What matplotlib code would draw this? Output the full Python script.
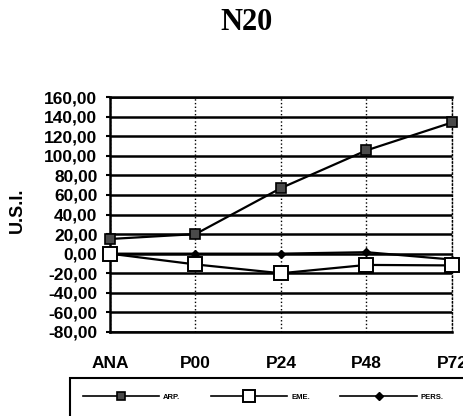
import matplotlib.pyplot as plt
from matplotlib.patches import Rectangle
from matplotlib.ticker import FuncFormatter, MultipleLocator

# Sampling points and the three series (U.S.I.)
times = ["ANA", "P00", "P24", "P48", "P72"]
arp = [15.0, 20.0, 67.0, 105.5, 134.0]
eme = [0.0, -11.0, -20.0, -11.5, -12.0]
pers = [0.0, 0.0, 0.0, 1.5, -6.0]

fig = plt.figure(figsize=(4.64, 4.16), dpi=100)
ax = fig.add_axes([110 / 464, 1 - 332 / 416, 342 / 464, 235 / 416])

x = range(len(times))
ax.plot(x, arp, color="black", lw=1.6, marker="s", ms=7, mfc="#4a4a4a",
        mec="black", mew=1.2, label="ARP.", clip_on=False, zorder=5)
ax.plot(x, eme, color="black", lw=1.6, marker="s", ms=9.5, mfc="white",
        mec="black", mew=1.4, label="EME.", clip_on=False, zorder=4)
ax.plot(x, pers, color="black", lw=1.6, marker="D", ms=4.5, mfc="black",
        mec="black", label="PERS.", clip_on=False, zorder=3)

ax.set_xlim(0, len(times) - 1)
ax.set_ylim(-80, 160)
ax.yaxis.set_major_locator(MultipleLocator(20))
ax.yaxis.set_major_formatter(FuncFormatter(lambda v, _: f"{v:.2f}".replace(".", ",")))
ax.set_xticks(list(x))
ax.set_xticklabels(times)

ax.grid(axis="y", color="black", lw=1.8, ls="-")
ax.grid(axis="x", color="black", lw=1.0, ls=":")
ax.set_axisbelow(True)

for side in ["top", "bottom", "left"]:
    ax.spines[side].set_linewidth(1.8)
ax.spines["right"].set_linestyle(":")
ax.spines["right"].set_linewidth(1.0)

ax.tick_params(axis="y", length=3, width=1.5, pad=6,
               labelsize=12.5, labelfontfamily="Liberation Sans")
ax.tick_params(axis="x", length=0, pad=17,
               labelsize=12.5, labelfontfamily="Liberation Sans")
for lab in ax.get_xticklabels() + ax.get_yticklabels():
    lab.set_fontweight("bold")

fig.text(17 / 464, 1 - 210 / 416, "U.S.I.", rotation=90, ha="center", va="center",
         fontsize=13, fontweight="bold", family="Liberation Sans")
fig.text(247 / 464, 1 - 23 / 416, "N20", ha="center", va="center",
         fontsize=22, fontweight="bold", family="Liberation Serif")

# Legend box runs off the right and bottom edges
fig.patches.append(Rectangle((70 / 464, -0.02), 0.9, (416 - 378) / 416 + 0.02,
                             transform=fig.transFigure, fill=False,
                             edgecolor="black", lw=1.5))
handles, labels = ax.get_legend_handles_labels()
leg = fig.legend(handles, labels, loc="center left",
                 bbox_to_anchor=(76 / 464, 1 - 397 / 416), ncol=3, frameon=False,
                 handlelength=10, handletextpad=0.5, columnspacing=4.0,
                 markerscale=0.85,
                 prop={"size": 5.5, "weight": "bold", "family": "Liberation Sans"})
for line in leg.get_lines():
    line.set_linewidth(1.2)

fig.savefig("out.png", dpi=100)
